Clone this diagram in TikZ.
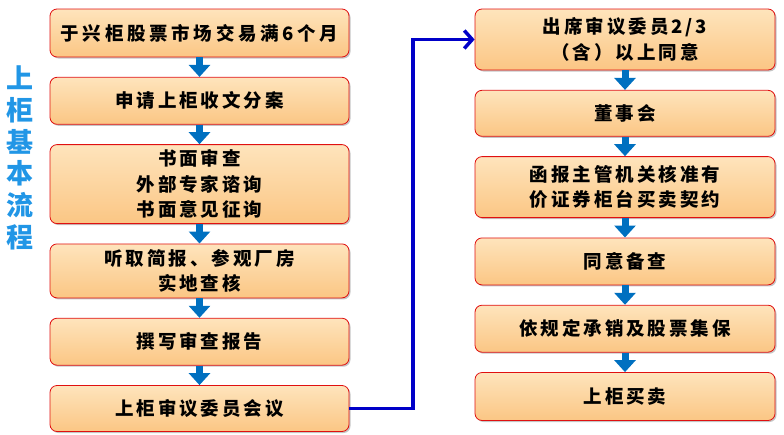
\documentclass[tikz,border=0pt]{standalone}
\usepackage{fontspec}
\newfontfamily\cjk{Noto Sans CJK SC}[LetterSpace=16]
\newfontfamily\cjkwide{Noto Sans CJK SC}[LetterSpace=20]
\newfontfamily\titlecjk{Noto Sans CJK SC}
\usepackage{tikz}
\usetikzlibrary{positioning,arrows.meta,shadows}
\definecolor{peachtop}{HTML}{FEE4BC}
\definecolor{peachbot}{HTML}{FBC684}
\definecolor{edgered}{HTML}{E01010}
\definecolor{flowblue}{HTML}{0070C0}
\definecolor{linkblue}{HTML}{0000C8}
\definecolor{titleblue}{HTML}{2196E6}

\begin{document}
\begin{tikzpicture}[x=1pt,y=-1pt,node distance=19.5pt,
box/.style={draw=edgered,line width=0.8pt,rounded corners=7pt,top color=peachtop,bottom color=peachbot,
  drop shadow={shadow xshift=1.5pt,shadow yshift=-1.5pt,fill=black!45},
  minimum width=299pt,align=center,font=\cjk\bfseries\fontsize{18.5}{25.5}\selectfont,inner sep=2pt},
flow/.style={draw=flowblue,line width=7pt,-{Triangle[length=12pt,width=21pt]}},
link/.style={draw=linkblue,line width=3.5pt,-{Straight Barb[length=8pt,width=18pt,line width=3.5pt]}}]
\useasboundingbox (0,0) rectangle (784,434);
\node[font=\titlecjk\bfseries\fontsize{27}{31.7}\selectfont,text=titleblue,align=center] (title) at (20,158) {上\\柜\\基\\本\\流\\程};
% left column
\node[box,minimum height=48pt] (hold) at (199.5,33) {{\cjkwide 于兴柜股票市场交易满6个月}};
\node[box,minimum height=47pt,below=of hold] (apply) {申请上柜收文分案};
\node[box,minimum height=79pt,below=of apply] (review) {书面审查\\外部专家谘询\\书面意见征询};
\node[box,minimum height=54pt,below=of review] (visit) {听取简报、参观厂房\\实地查核};
\node[box,minimum height=47pt,below=of visit] (report) {撰写审查报告};
\node[box,minimum height=46pt,below=of report] (meeting) {上柜审议委员会议};
% right column
\node[box,minimum width=300pt,minimum height=61pt] (agree) at (625,39.5) {出席审议委员2/3\\（含）以上同意};
\node[box,minimum width=300pt,minimum height=46pt,below=of agree] (board) {董事会};
\node[box,minimum width=300pt,minimum height=61pt,below=of board] (approve) {函报主管机关核准有\\价证券柜台买卖契约};
\node[box,minimum width=300pt,minimum height=47pt,below=of approve] (record) {同意备查};
\node[box,minimum width=300pt,minimum height=47pt,below=of record] (custody) {依规定承销及股票集保};
\node[box,minimum width=300pt,minimum height=48pt,below=of custody] (listed) {上柜买卖};
\draw[flow] (hold) -- (apply);
\draw[flow] (apply) -- (review);
\draw[flow] (review) -- (visit);
\draw[flow] (visit) -- (report);
\draw[flow] (report) -- (meeting);
\draw[flow] (agree) -- (board);
\draw[flow] (board) -- (approve);
\draw[flow] (approve) -- (record);
\draw[flow] (record) -- (custody);
\draw[flow] (custody) -- (listed);
\coordinate (turn) at (413,0);
\draw[link] (meeting.east) -- (meeting.east -| turn) |- (agree.west);
\end{tikzpicture}
\end{document}
